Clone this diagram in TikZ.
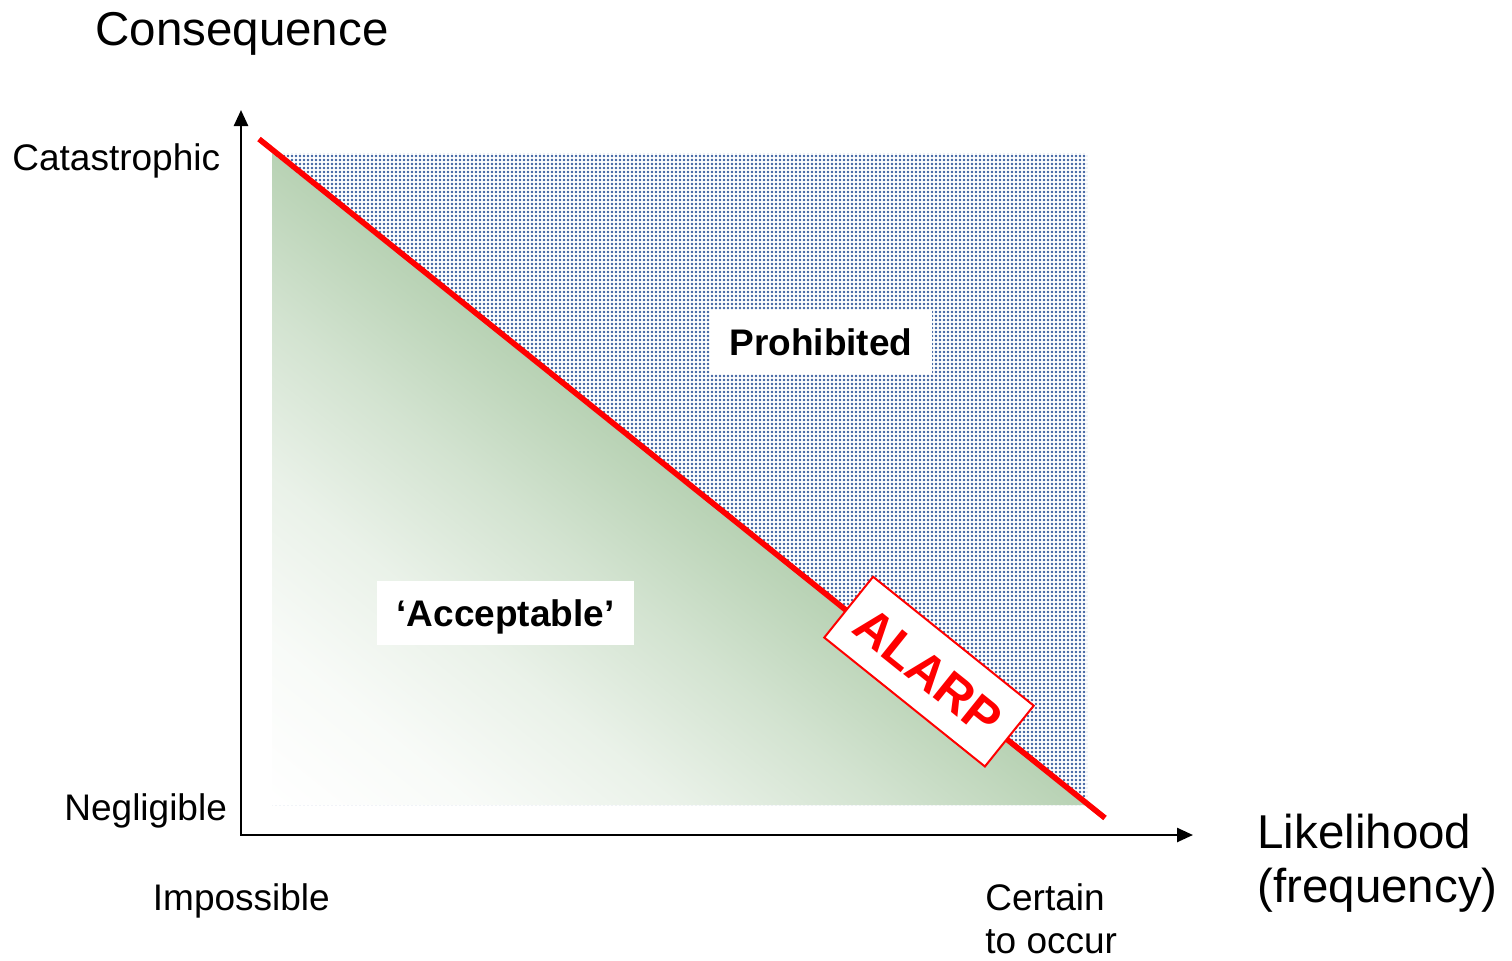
\documentclass[tikz,border=0pt]{standalone}
\usepackage{fontspec}
\setmainfont{Liberation Sans}
\usetikzlibrary{arrows.meta,patterns.meta}
\tikzset{>={Triangle[length=8pt,width=7pt]}}
\definecolor{acceptgreen}{RGB}{184,210,180}
\definecolor{dotblue}{RGB}{60,95,160}
\definecolor{alarpred}{RGB}{255,0,0}
\pgfdeclareverticalshading{acceptshade}{100bp}{color(0bp)=(white); color(25bp)=(white);
  color(31.25bp)=(acceptgreen!10!white); color(37.5bp)=(acceptgreen!30!white);
  color(43.75bp)=(acceptgreen!62!white); color(50bp)=(acceptgreen); color(100bp)=(acceptgreen)}

\begin{document}
\begin{tikzpicture}[x=0.5pt,y=-0.5pt,
    axislabel/.style={inner sep=0pt,font=\fontsize{18.5}{21.5}\selectfont},
    axistitle/.style={inner sep=0pt,font=\fontsize{23.75}{27}\selectfont},
    regionbox/.style={fill=white,inner xsep=9.75pt,inner ysep=0pt,minimum height=32pt,
                      text height=13.25pt,text depth=0pt,font=\fontsize{18.5}{21.5}\selectfont\bfseries},
    alarpbox/.style={draw=alarpred,line width=1pt,fill=white,text=alarpred,inner sep=0pt,
                     minimum width=103pt,minimum height=39pt,text height=17.9pt,text depth=0pt,
                     font=\fontsize{25}{30}\selectfont\bfseries}]
  \useasboundingbox (0,0) rectangle (1512,960);
  % regions
  \fill[pattern={Dots[distance=2pt,radius=0.7pt]},pattern color=dotblue]
       (272,153) rectangle (1087,805);
  \begin{scope}
    \clip (272,153) -- (272,805) -- (1087,805) -- cycle;
    \shade[shading=acceptshade,shading angle=-38.66] (81,-101.5) rectangle (1099,916.5);
  \end{scope}
  % axes
  \coordinate (origin) at (241,835);
  \coordinate (ytip)   at (241,110);
  \coordinate (xtip)   at (1193,835);
  \draw[<->,line width=1.25pt] (ytip) -- (origin) -- (xtip);
  % limit line
  \coordinate (redstart) at (259,139);
  \coordinate (redend)   at (1105,818);
  \draw[alarpred,line width=2.8pt] (redstart) --
       node[alarpbox,pos=0.789,sloped,yshift=2pt] (alarp) {ALARP} (redend);
  % region labels
  \node[regionbox] (prohibited) at (821,342)   {Prohibited};
  \node[regionbox] (acceptable) at (505.5,613) {‘Acceptable’};
  % axis labels
  \node[axistitle,anchor=base west] (consequence)  at (95,45)    {Consequence};
  \node[axislabel,anchor=base west] (catastrophic) at (12,170)   {Catastrophic};
  \node[axislabel,anchor=base west] (negligible)   at (64,820)   {Negligible};
  \node[axislabel,anchor=base west] (impossible)   at (152.5,910) {Impossible};
  \node[axislabel,anchor=base west,align=left] (certain) at (985,953) {Certain\\to occur};
  \node[axistitle,anchor=base west,align=left] (likelihood) at (1257,902) {Likelihood\\(frequency)};
\end{tikzpicture}
\end{document}
